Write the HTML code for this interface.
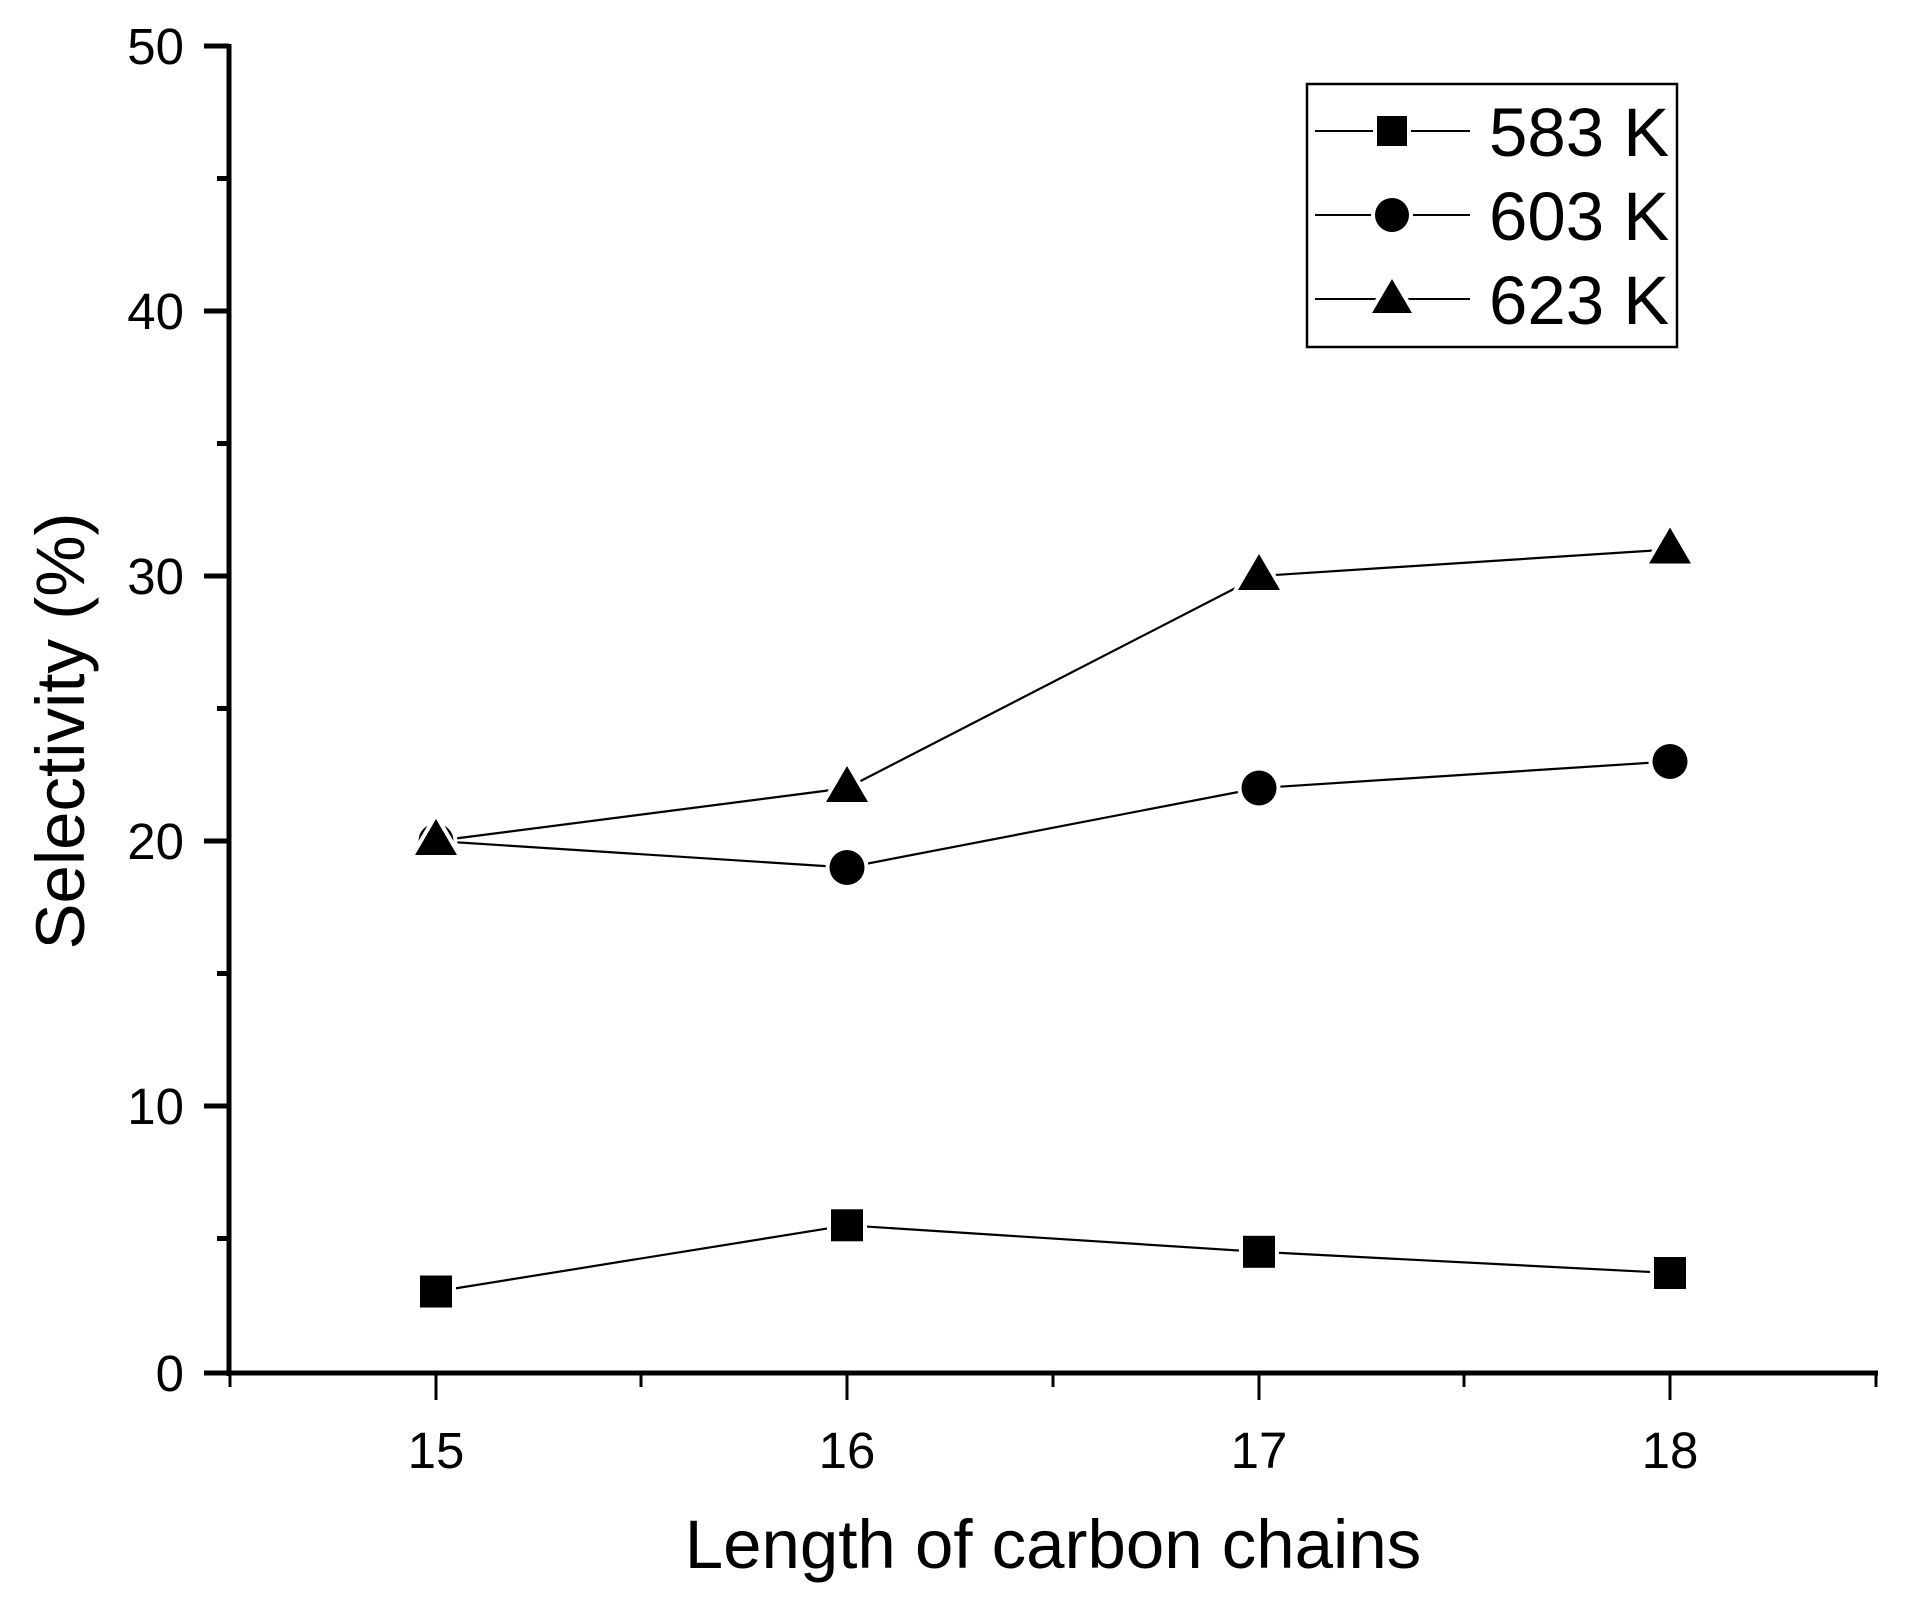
<!DOCTYPE html>
<html><head><meta charset="utf-8"><style>html,body{margin:0;padding:0;background:#fff}svg{display:block}</style></head>
<body>
<svg width="1910" height="1603" viewBox="0 0 1910 1603" xmlns="http://www.w3.org/2000/svg" font-family="Liberation Sans, Arial, sans-serif">
<rect width="1910" height="1603" fill="#fff"/>
<line x1="229" y1="44" x2="229" y2="1376" stroke="#000" stroke-width="5"/>
<line x1="204" y1="1373" x2="1878" y2="1373" stroke="#000" stroke-width="5"/>
<g stroke="#000" stroke-width="5">
<line x1="204" y1="46" x2="229" y2="46"/><line x1="204" y1="311" x2="229" y2="311"/><line x1="204" y1="576" x2="229" y2="576"/><line x1="204" y1="841" x2="229" y2="841"/><line x1="204" y1="1106" x2="229" y2="1106"/>
<line x1="217" y1="178.5" x2="229" y2="178.5"/><line x1="217" y1="443.5" x2="229" y2="443.5"/><line x1="217" y1="708.5" x2="229" y2="708.5"/><line x1="217" y1="973.5" x2="229" y2="973.5"/><line x1="217" y1="1238.5" x2="229" y2="1238.5"/>
</g>
<g stroke="#000" stroke-width="3">
<line x1="436" y1="1373" x2="436" y2="1400"/><line x1="847" y1="1373" x2="847" y2="1400"/><line x1="1259" y1="1373" x2="1259" y2="1400"/><line x1="1670" y1="1373" x2="1670" y2="1400"/>
<line x1="230" y1="1373" x2="230" y2="1387"/><line x1="641" y1="1373" x2="641" y2="1387"/><line x1="1053" y1="1373" x2="1053" y2="1387"/><line x1="1464" y1="1373" x2="1464" y2="1387"/><line x1="1876" y1="1373" x2="1876" y2="1387"/>
</g>
<g font-size="51" text-anchor="end">
<text x="184" y="64">50</text><text x="184" y="329">40</text><text x="184" y="594">30</text><text x="184" y="859">20</text><text x="184" y="1124">10</text><text x="184" y="1391">0</text>
</g>
<g font-size="51" text-anchor="middle">
<text x="436" y="1468">15</text><text x="847" y="1468">16</text><text x="1259" y="1468">17</text><text x="1670" y="1468">18</text>
</g>
<text x="1053" y="1568" font-size="69" text-anchor="middle">Length of carbon chains</text>
<text transform="translate(84,731) rotate(-90)" font-size="69" text-anchor="middle">Selectivity (%)</text>
<g stroke="#000" stroke-width="2.2" fill="none">
<polyline points="436,1291.5 847,1225.3 1259,1251.8 1670,1273"/>
<polyline points="436,841 847,867.5 1259,788 1670,761.5"/>
<polyline points="436,841 847,788 1259,576 1670,549.5"/>
</g>
<g fill="#000" stroke="#fff" stroke-width="8" paint-order="stroke">
<rect x="420" y="1275.5" width="32" height="32"/><rect x="831" y="1209.3" width="32" height="32"/><rect x="1243" y="1235.8" width="32" height="32"/><rect x="1654" y="1257" width="32" height="32"/>
<circle cx="847" cy="867.5" r="17.5"/><circle cx="1259" cy="788" r="17.5"/><circle cx="1670" cy="761.5" r="17.5"/>
<polygon points="847,766 826,802 868,802"/><polygon points="1259,554 1238,590 1280,590"/><polygon points="1670,527.5 1649,563.5 1691,563.5"/>
<circle cx="436" cy="841" r="17.5"/>
<polygon points="436,819 415,855 457,855"/>
</g>
<rect x="1307" y="84" width="370" height="263" fill="none" stroke="#000" stroke-width="2.5"/>
<g stroke="#000" stroke-width="2">
<line x1="1315" y1="131" x2="1470" y2="131"/><line x1="1315" y1="215" x2="1470" y2="215"/><line x1="1315" y1="299" x2="1470" y2="299"/>
</g>
<g fill="#000" stroke="#fff" stroke-width="8" paint-order="stroke">
<rect x="1377" y="116" width="30" height="30"/>
<circle cx="1392" cy="215" r="17"/>
<polygon points="1392,279 1372,313 1412,313"/>
</g>
<g font-size="69">
<text x="1489" y="156">583 K</text><text x="1489" y="240">603 K</text><text x="1489" y="324">623 K</text>
</g>
</svg>
</body></html>
